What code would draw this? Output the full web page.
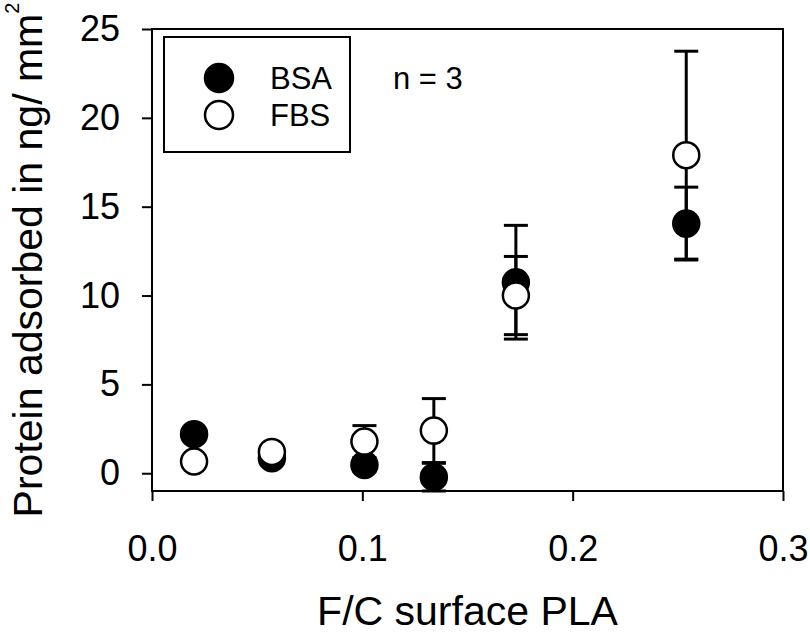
<!DOCTYPE html>
<html>
<head>
<meta charset="utf-8">
<script src="https://cdn.jsdelivr.net/npm/d3@7"></script>
<style>
  body { margin: 0; background: #fff; }
  svg { display: block; font-family: Arial, "Liberation Sans", sans-serif; }
</style>
</head>
<body>
<div class="canvas"></div>
<script>
// F/C ratio of the PLA surface
const fcRatio = [0.02, 0.057, 0.101, 0.134, 0.173, 0.254];

// protein adsorbed, ng/mm^2 (mean and error)
const bsaValues = [2.2, 0.85, 0.47, -0.22, 10.75, 14.05];
const bsaErrors = [0.3, 0.3, 0.35, 0.78, 3.2, 2.05];
const fbsValues = [0.66, 1.2, 1.78, 2.4, 10.0, 17.9];
const fbsErrors = [0.3, 0.3, 0.9, 1.8, 2.2, 5.85];

const xTicks = [0, 0.1, 0.2, 0.3];
const yTicks = [0, 5, 10, 15, 20, 25];

const width = 810;
const height = 634;
const margin = { top: 29, right: 27, bottom: 143, left: 152 };

const x = d3
  .scaleLinear()
  .domain([0, 0.3])
  .range([margin.left, width - margin.right]);

const y = d3
  .scaleLinear()
  .domain([-1, 25])
  .range([height - margin.bottom, margin.top]);

const svg = d3
  .select(".canvas")
  .append("svg")
  .attr("width", width)
  .attr("height", height);

// frame
svg
  .append("rect")
  .attr("x", x(0))
  .attr("y", y(25))
  .attr("width", x(0.3) - x(0))
  .attr("height", y(-1) - y(25))
  .attr("fill", "none")
  .attr("stroke", "#000")
  .attr("stroke-width", 2);

const xAxis = svg
  .append("g")
  .attr("transform", `translate(0,${y(-1)})`)
  .call(
    d3
      .axisBottom(x)
      .tickValues(xTicks)
      .tickFormat(d3.format(".1f"))
      .tickSize(10)
      .tickSizeOuter(0)
      .tickPadding(34)
  );

const yAxis = svg
  .append("g")
  .attr("transform", `translate(${x(0)},0)`)
  .call(
    d3
      .axisLeft(y)
      .tickValues(yTicks)
      .tickSize(10)
      .tickSizeOuter(0)
      .tickPadding(22)
  );

[xAxis, yAxis].forEach((g) => {
  g.select(".domain").remove();
  g.selectAll("line").attr("stroke", "#000").attr("stroke-width", 2);
  g.selectAll("text")
    .attr("fill", "#000")
    .style("font-size", "36px")
    .style("font-family", "Arial, 'Liberation Sans', sans-serif");
});

// axis titles
svg
  .append("text")
  .attr("x", (x(0) + x(0.3)) / 2)
  .attr("y", 625)
  .attr("text-anchor", "middle")
  .style("font-size", "41px")
  .text("F/C surface PLA");

const yTitle = svg
  .append("text")
  .attr("transform", `translate(42,${(y(25) + y(-1)) / 2}) rotate(-90)`)
  .attr("text-anchor", "middle")
  .style("font-size", "41px");
yTitle.append("tspan").text("Protein adsorbed in ng/ mm");
yTitle
  .append("tspan")
  .attr("dy", -23)
  .style("font-size", "20px")
  .text("2");

function drawSeries(values, errors, filled) {
  const rows = fcRatio.map((f, i) => ({ f: f, v: values[i], e: errors[i] }));
  const g = svg.append("g");

  const bars = g
    .selectAll(".err")
    .data(rows)
    .enter()
    .append("g")
    .attr("class", "err")
    .attr("stroke", "#000")
    .attr("stroke-width", 3);

  bars
    .append("line")
    .attr("x1", (d) => x(d.f))
    .attr("x2", (d) => x(d.f))
    .attr("y1", (d) => y(d.v - d.e))
    .attr("y2", (d) => y(d.v + d.e));

  [-1, 1].forEach((s) => {
    bars
      .append("line")
      .attr("x1", (d) => x(d.f) - 12)
      .attr("x2", (d) => x(d.f) + 12)
      .attr("y1", (d) => y(d.v + s * d.e))
      .attr("y2", (d) => y(d.v + s * d.e));
  });

  g.selectAll("circle")
    .data(rows)
    .enter()
    .append("circle")
    .attr("cx", (d) => x(d.f))
    .attr("cy", (d) => y(d.v))
    .attr("r", 13)
    .attr("fill", filled ? "#000" : "#fff")
    .attr("stroke", "#000")
    .attr("stroke-width", 2.5);
}

drawSeries(bsaValues, bsaErrors, true);
drawSeries(fbsValues, fbsErrors, false);

// legend
const legend = svg.append("g").attr("class", "legend");
legend
  .append("rect")
  .attr("x", 164)
  .attr("y", 37)
  .attr("width", 186)
  .attr("height", 115)
  .attr("fill", "#fff")
  .attr("stroke", "#000")
  .attr("stroke-width", 2);

[
  { name: "BSA", filled: true, cy: 78 },
  { name: "FBS", filled: false, cy: 115 }
].forEach((item) => {
  legend
    .append("circle")
    .attr("cx", 219)
    .attr("cy", item.cy)
    .attr("r", 14)
    .attr("fill", item.filled ? "#000" : "#fff")
    .attr("stroke", "#000")
    .attr("stroke-width", 2.5);
  legend
    .append("text")
    .attr("x", 270)
    .attr("y", item.cy + 11)
    .style("font-size", "31px")
    .text(item.name);
});

svg
  .append("text")
  .attr("x", 393)
  .attr("y", 89)
  .style("font-size", "31px")
  .text("n = 3");
</script>
</body>
</html>
